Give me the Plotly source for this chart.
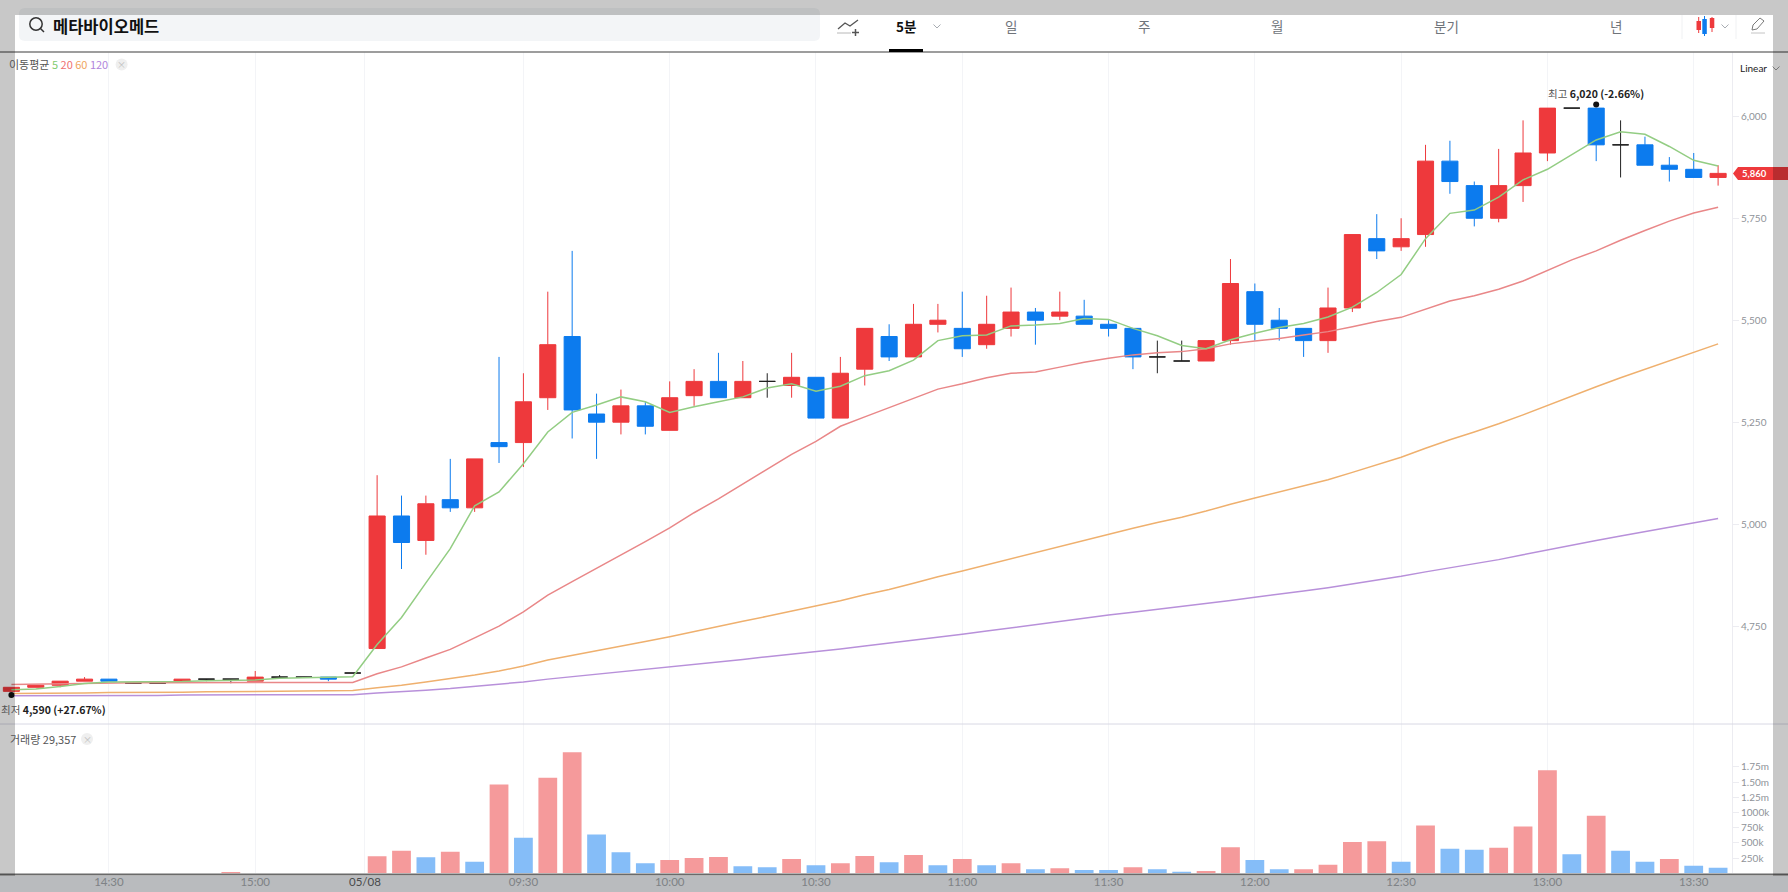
import plotly.graph_objects as go

W = 1788
H = 892

# 5 minute bars, 14:10 the day before up to 13:35
OPEN = [4590, 4600, 4605, 4615, 4620, 4610, 4610, 4615, 4620, 4620, 4615, 4625, 4625, 4625, 4635,
        4695, 5020, 4960, 5060, 5040, 5200, 5200, 5310, 5460, 5270, 5250, 5290, 5230, 5315, 5350,
        5310, 5350, 5340, 5360, 5260, 5380, 5460, 5410, 5490, 5480, 5440, 5480, 5520, 5510, 5510,
        5490, 5480, 5410, 5400, 5400, 5450, 5570, 5500, 5480, 5450, 5530, 5700, 5680, 5710, 5890,
        5830, 5750, 5830, 5910, 6020, 6020, 5930, 5930, 5880, 5870, 5850]
HIGH = [4600, 4605, 4615, 4625, 4620, 4610, 4610, 4620, 4620, 4620, 4640, 4630, 4625, 4625, 4635,
        5120, 5070, 5070, 5160, 5160, 5410, 5370, 5570, 5670, 5320, 5330, 5300, 5350, 5380, 5420,
        5400, 5370, 5420, 5360, 5410, 5480, 5490, 5540, 5540, 5570, 5560, 5580, 5530, 5570, 5550,
        5500, 5480, 5450, 5450, 5450, 5650, 5590, 5530, 5480, 5580, 5710, 5760, 5750, 5930, 5940,
        5840, 5920, 5990, 6020, 6020, 6020, 5990, 5950, 5900, 5910, 5880]
LOW = [4590, 4600, 4600, 4615, 4615, 4610, 4610, 4615, 4615, 4610, 4615, 4625, 4625, 4615, 4635,
       4695, 4890, 4925, 5030, 5030, 5150, 5140, 5280, 5210, 5160, 5220, 5220, 5230, 5290, 5310,
       5310, 5310, 5310, 5260, 5260, 5340, 5400, 5410, 5470, 5410, 5430, 5460, 5440, 5500, 5490,
       5460, 5380, 5370, 5400, 5400, 5440, 5450, 5450, 5410, 5420, 5520, 5650, 5670, 5680, 5810,
       5730, 5740, 5790, 5890, 6020, 5890, 5850, 5880, 5840, 5850, 5830]
CLOSE = [4600, 4605, 4615, 4620, 4615, 4610, 4610, 4620, 4620, 4620, 4625, 4625, 4625, 4620, 4635,
         5020, 4955, 5050, 5040, 5160, 5190, 5300, 5440, 5280, 5250, 5290, 5240, 5310, 5350, 5310,
         5350, 5350, 5360, 5260, 5370, 5480, 5410, 5490, 5500, 5430, 5490, 5520, 5500, 5520, 5490,
         5480, 5410, 5410, 5400, 5450, 5590, 5490, 5480, 5450, 5530, 5710, 5670, 5700, 5890, 5840,
         5750, 5830, 5910, 6020, 6020, 5930, 5930, 5880, 5870, 5850, 5860]

MA5 = [4594, 4596, 4602, 4609, 4613, 4613, 4613, 4614, 4616, 4617, 4618, 4622, 4623, 4624, 4626,
       4705, 4771, 4856, 4940, 5045, 5079, 5148, 5226, 5274, 5292, 5312, 5300, 5274, 5288, 5300,
       5312, 5334, 5344, 5326, 5338, 5364, 5376, 5402, 5450, 5462, 5464, 5486, 5488, 5492, 5504,
       5502, 5480, 5462, 5438, 5430, 5452, 5468, 5482, 5492, 5508, 5532, 5568, 5612, 5700, 5762,
       5770, 5802, 5844, 5870, 5906, 5942, 5962, 5956, 5926, 5892, 5878]
MA20 = [4607, 4608, 4609, 4610, 4610, 4611, 4611, 4611, 4612, 4612, 4612, 4612, 4612, 4612, 4612,
        4633, 4650, 4672, 4693, 4721, 4750, 4785, 4826, 4859, 4891, 4925, 4957, 4991, 5028, 5062,
        5098, 5135, 5171, 5203, 5240, 5263, 5286, 5308, 5331, 5344, 5359, 5370, 5373, 5385, 5397,
        5407, 5415, 5420, 5423, 5430, 5442, 5449, 5455, 5464, 5472, 5484, 5497, 5507, 5527, 5547,
        5560, 5576, 5596, 5621, 5648, 5670, 5696, 5720, 5743, 5763, 5777]
MA60 = [4585, 4585, 4586, 4586, 4587, 4587, 4588, 4588, 4589, 4589, 4590, 4590, 4591, 4591, 4592,
        4599, 4605, 4613, 4621, 4630, 4640, 4652, 4667, 4678, 4689, 4701, 4712, 4724, 4737, 4749,
        4762, 4774, 4787, 4799, 4812, 4827, 4840, 4855, 4871, 4885, 4900, 4915, 4931, 4946, 4961,
        4976, 4990, 5004, 5017, 5032, 5049, 5064, 5079, 5093, 5109, 5127, 5146, 5164, 5186, 5207,
        5226, 5246, 5268, 5291, 5315, 5337, 5359, 5380, 5401, 5421, 5442]
MA120 = [4579, 4579, 4579, 4580, 4580, 4580, 4580, 4581, 4581, 4581, 4581, 4581, 4582, 4582, 4582,
         4586, 4589, 4593, 4597, 4602, 4607, 4613, 4620, 4626, 4632, 4637, 4643, 4649, 4656, 4662,
         4668, 4675, 4681, 4687, 4694, 4701, 4708, 4716, 4723, 4730, 4738, 4746, 4754, 4762, 4769,
         4777, 4784, 4791, 4798, 4805, 4813, 4821, 4828, 4836, 4844, 4853, 4862, 4872, 4883, 4893,
         4903, 4913, 4925, 4937, 4949, 4960, 4971, 4982, 4993, 5004, 5014]

# volume in thousands
VOLUME = [0, 0, 0, 0, 0, 0, 0, 0, 0, 11, 0, 0, 0, 0, 0,
          279, 372, 263, 356, 191, 1460, 585, 1570, 1990, 640,
          345, 164, 219, 252, 268, 115, 98, 235, 131, 164, 284, 180, 301, 131, 235,
          131, 164, 66, 82, 55, 55, 98, 66, 25, 38,
          427, 219, 66, 66, 142, 514, 525, 191, 788, 405, 388, 421, 771, 1696, 312, 946,
          372, 191, 235, 126, 93]
VOLUME_SIDE = list("rrrrrrrrrrrrrrr"
                   "rrbrbrbrrb"
                   "bbrrrbbrbrrbrbr"
                   "brbrbbrbbr"
                   "rbbrrrrbrbbrrrbrbbrbb")

PRICE_TICKS = [6000, 5750, 5500, 5250, 5000, 4750]
PRICE_LABELS = ["6,000", "5,750", "5,500", "5,250", "5,000", "4,750"]
VOLUME_TICKS = [250, 500, 750, 1000, 1250, 1500, 1750]
VOLUME_LABELS = ["250k", "500k", "750k", "1000k", "1.25m", "1.50m", "1.75m"]
TIME_TICKS = [4, 10, 14.5, 21, 27, 33, 39, 45, 51, 57, 63, 69]
TIME_LABELS = ["14:30", "15:00", "<span style='color:#5d5f63'>05/08</span>", "09:30", "10:00", "10:30",
               "11:00", "11:30", "12:00", "12:30", "13:00", "13:30"]

# the two markers for the day's high and low
EXTREME_X = [65, 0]
EXTREME_Y = [6029, 4581]

RED = "#ee393c"
BLUE = "#0c7bee"
FONT = "Noto Sans CJK KR"
LABEL_FONT = "Lato"


def px(x):
    return x / W


def py(y):
    return 1 - y / H


def rect(x0, y0, x1, y1, color, layer="above"):
    return dict(type="rect", xref="paper", yref="paper", x0=px(x0), x1=px(x1), y0=py(y0), y1=py(y1),
                fillcolor=color, line_width=0, layer=layer)


def line(x0, y0, x1, y1, color, width=1):
    return dict(type="line", xref="paper", yref="paper", x0=px(x0), x1=px(x1), y0=py(y0), y1=py(y1),
                line=dict(color=color, width=width), layer="above")


def path(points, color, width=1, fill=None, closed=False):
    d = "M " + " L ".join("%.5f,%.5f" % (px(a), py(b)) for a, b in points)
    if closed:
        d += " Z"
    return dict(type="path", xref="paper", yref="paper", path=d, layer="above",
                line=dict(color=color, width=width), fillcolor=fill)


def rounded(x0, y0, x1, y1, r, color):
    p = lambda a, b: "%.5f,%.5f" % (px(a), py(b))
    d = ("M " + p(x0 + r, y0) + " L " + p(x1 - r, y0) + " Q " + p(x1, y0) + " " + p(x1, y0 + r)
         + " L " + p(x1, y1 - r) + " Q " + p(x1, y1) + " " + p(x1 - r, y1)
         + " L " + p(x0 + r, y1) + " Q " + p(x0, y1) + " " + p(x0, y1 - r)
         + " L " + p(x0, y0 + r) + " Q " + p(x0, y0) + " " + p(x0 + r, y0) + " Z")
    return dict(type="path", xref="paper", yref="paper", path=d, layer="above",
                line_width=0, fillcolor=color)


def circle(cx, cy, r, color=None, fill=None, width=1):
    return dict(type="circle", xref="paper", yref="paper", x0=px(cx - r), x1=px(cx + r),
                y0=py(cy + r), y1=py(cy - r), layer="above", fillcolor=fill,
                line=dict(color=color or "rgba(0,0,0,0)", width=width))


def note(x, y, text, size=11, color="#333333", anchor="left", font=FONT):
    return dict(xref="paper", yref="paper", x=px(x), y=py(y), text=text, showarrow=False, xanchor=anchor,
                yanchor="middle", xshift=0, align="left", borderpad=0,
                font=dict(family=font, size=size, color=color))


def chevron(x, y, color="#a8acb2"):
    return path([(x - 3.5, y - 1.5), (x, y + 2), (x + 3.5, y - 1.5)], color, 1)


idx = list(range(len(CLOSE)))
solid = [i for i in idx if OPEN[i] != CLOSE[i]]
doji = [i for i in idx if OPEN[i] == CLOSE[i]]

fig = go.Figure()

fig.add_trace(go.Candlestick(
    x=solid,
    open=[OPEN[i] for i in solid], high=[HIGH[i] for i in solid],
    low=[LOW[i] for i in solid], close=[CLOSE[i] for i in solid],
    increasing=dict(line=dict(color=RED, width=1), fillcolor=RED),
    decreasing=dict(line=dict(color=BLUE, width=1), fillcolor=BLUE),
    xaxis="x", yaxis="y", showlegend=False))
fig.add_trace(go.Candlestick(
    x=doji,
    open=[OPEN[i] for i in doji], high=[HIGH[i] for i in doji],
    low=[LOW[i] for i in doji], close=[CLOSE[i] for i in doji],
    increasing=dict(line=dict(color="#222222", width=1), fillcolor="#222222"),
    decreasing=dict(line=dict(color="#222222", width=1), fillcolor="#222222"),
    xaxis="x", yaxis="y", showlegend=False))

for values, color in [(MA120, "#b890da"), (MA60, "#efb06e"), (MA20, "#e98788"), (MA5, "#93cd83")]:
    fig.add_trace(go.Scatter(x=idx, y=values, mode="lines", line=dict(color=color, width=1.5),
                             xaxis="x", yaxis="y", showlegend=False))

fig.add_trace(go.Scatter(x=EXTREME_X, y=EXTREME_Y, mode="markers", marker=dict(color="#111111", size=6),
                         xaxis="x", yaxis="y", showlegend=False, cliponaxis=False))

fig.add_trace(go.Bar(x=idx, y=VOLUME,
                     marker=dict(color=["#f59a9b" if s == "r" else "#85bdf8" for s in VOLUME_SIDE],
                                 line_width=0),
                     xaxis="x2", yaxis="y2", showlegend=False))

x_range = [-0.4676, 70.57]
axis_right = 1732 / W
shared_x = dict(range=x_range, domain=[0, axis_right], tickmode="array", tickvals=TIME_TICKS,
                showgrid=True, gridcolor="#f3f4f7", gridwidth=1, zeroline=False, showline=False,
                ticks="", rangeslider=dict(visible=False))

fig.update_layout(
    width=W, height=H, autosize=False,
    margin=dict(l=0, r=0, t=0, b=0, pad=0),
    paper_bgcolor="white", plot_bgcolor="rgba(0,0,0,0)",
    boxgap=0.34, boxgroupgap=0, bargap=0.23,
    hovermode=False,
    xaxis=dict(anchor="y", ticktext=[""] * len(TIME_TICKS), showticklabels=False, **shared_x),
    xaxis2=dict(anchor="y2", ticktext=TIME_LABELS, showticklabels=True,
                tickfont=dict(family=LABEL_FONT, size=11.5, color="#a2a6ab"), **shared_x),
    yaxis=dict(anchor="x", side="right", domain=[py(724), py(52)], range=[4510.0, 6157.6],
               tickmode="array", tickvals=PRICE_TICKS, ticktext=PRICE_LABELS,
               tickfont=dict(family=LABEL_FONT, size=10, color="#8f9399"),
               showgrid=False, zeroline=False, showline=True, linecolor="#ececf1", linewidth=1,
               ticks="outside", ticklen=6, tickcolor="#ececf1"),
    yaxis2=dict(anchor="x2", side="right", domain=[py(873.3), py(724)], range=[0, 2455],
                tickmode="array", tickvals=VOLUME_TICKS, ticktext=VOLUME_LABELS,
                tickfont=dict(family=LABEL_FONT, size=10, color="#8f9399"),
                showgrid=False, zeroline=False, showline=True, linecolor="#ececf1", linewidth=1,
                ticks="outside", ticklen=6, tickcolor="#ececf1"),
)

shapes = [
    # page chrome below the screenshot dimming
    rect(0, 876, W, H, "#eceff2", layer="below"),
    rounded(19, 8, 820, 41, 6, "#f3f5f7"),
    line(0, 52, W, 52, "#7d7d7d", 1.5),
    line(0, 724, W, 724, "#d8d8e4", 1),
    line(0, 874.5, W, 874.5, "#6a6a6a", 2),
    rect(889, 49, 923, 52, "#000000"),
    # search icon
    circle(36, 24, 6.2, color="#333333", width=1.5),
    line(40.5, 28.5, 44, 32, "#333333", 1.5),
    # add indicator icon
    path([(838, 29), (845, 23), (850, 26), (858, 20)], "#555555", 1.3),
    line(837, 33, 851, 33, "#b8b8b8", 1),
    line(852, 32.5, 859, 32.5, "#555555", 1.5),
    line(855.5, 29, 855.5, 36, "#555555", 1.5),
    chevron(937, 26),
    # chart type and pencil icons
    line(1682, 15, 1682, 39, "#f0f1f3", 1),
    line(1736, 15, 1736, 39, "#f0f1f3", 1),
    line(1698.7, 17, 1698.7, 33, RED, 1),
    rect(1696.5, 21, 1701, 30, RED),
    line(1704.5, 16, 1704.5, 36, BLUE, 1),
    rect(1702.3, 19, 1706.8, 34, BLUE),
    line(1712, 17, 1712, 32, RED, 1),
    rect(1709.8, 18, 1714.3, 28, RED),
    chevron(1725, 26),
    path([(1752, 30), (1753, 25), (1760, 18), (1764, 21), (1757, 29), (1752, 30)], "#7a7a7a", 1),
    line(1751, 33, 1765, 33, "#c4c4c4", 1),
    chevron(1776, 68, "#9a9a9a"),
    # last price tag
    path([(1733, 173.5), (1738, 167), (W, 167), (W, 180), (1738, 180)], RED, 0, RED, closed=True),
    # close buttons
    circle(121.6, 64.5, 6, fill="#efefef"),
    circle(87, 739, 6, fill="#efefef"),
    # dimmed surround of the screenshot
    rect(0, 0, W, 15, "rgba(0,0,0,0.215)"),
    rect(0, 876, W, H, "rgba(0,0,0,0.215)"),
    rect(0, 15, 15, 876, "rgba(0,0,0,0.215)"),
    rect(1773, 15, W, 876, "rgba(0,0,0,0.215)"),
]

legend_text = ("<span style='color:#555555'>이동평균</span> <span style='color:#7fcc6e'>5</span> "
               "<span style='color:#ef6f70'>20</span> <span style='color:#f0a55e'>60</span> "
               "<span style='color:#b184dc'>120</span>")

annotations = [
    note(52, 26, "<b>메타바이오메드</b>", size=16.5, color="#111111"),
    note(906, 26, "<b>5분</b>", size=13.5, color="#111111", anchor="center"),
    note(1011, 26, "일", size=13.5, color="#6f747a", anchor="center"),
    note(1144, 26, "주", size=13.5, color="#6f747a", anchor="center"),
    note(1277, 26, "월", size=13.5, color="#6f747a", anchor="center"),
    note(1446, 26, "분기", size=13.5, color="#6f747a", anchor="center"),
    note(1616, 26, "년", size=13.5, color="#6f747a", anchor="center"),
    note(8, 64, legend_text, size=11),
    note(121.6, 64.5, "×", size=9, color="#bdbdbd", anchor="center"),
    note(1739, 68, "Linear", size=10, color="#222222", font=LABEL_FONT),
    note(1547, 93, "<span style='color:#555555'>최고</span> <b>6,020 (-2.66%)</b>", size=10.5, color="#222222"),
    note(0, 709, "<span style='color:#555555'>최저</span> <b>4,590 (+27.67%)</b>", size=10.5, color="#222222"),
    note(9, 739, "거래량 29,357", size=11, color="#555555"),
    note(87, 739, "×", size=9, color="#bdbdbd", anchor="center"),
    note(1741, 173.5, "<b>5,860</b>", size=9.5, color="#ffffff", font=LABEL_FONT),
]

fig.update_layout(shapes=shapes, annotations=annotations)

fig.write_html("out.html", config={"displayModeBar": False},
               post_script="document.body.style.margin='0';document.body.style.overflow='hidden';")
